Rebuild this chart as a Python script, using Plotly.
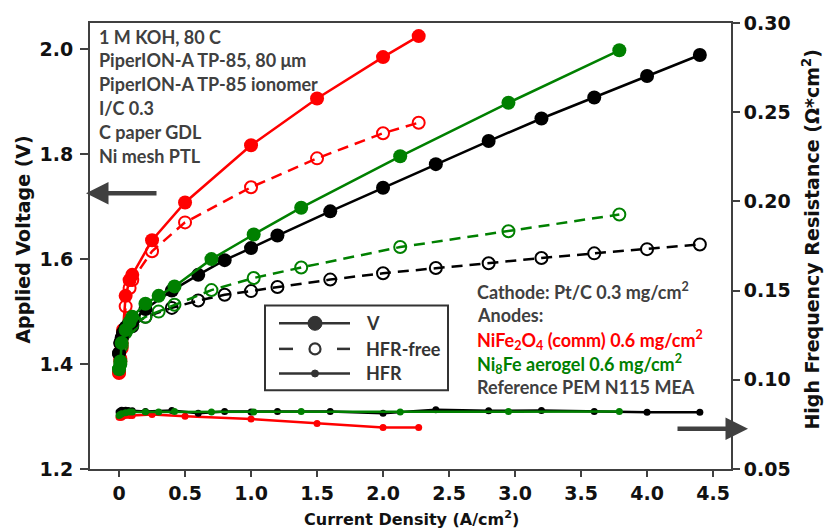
import plotly.graph_objects as go

# ---------------- data ----------------
red_x = [0, 0.01, 0.02, 0.03, 0.05, 0.08, 0.1, 0.25, 0.5, 1.0, 1.5, 2.0, 2.27]
red_v = [1.385, 1.41, 1.44, 1.465, 1.53, 1.56, 1.57, 1.636, 1.708, 1.817, 1.906, 1.985, 2.025]
red_free = [1.383, 1.405, 1.43, 1.455, 1.51, 1.545, 1.56, 1.615, 1.670, 1.737, 1.792, 1.840, 1.860]
red_hfr = [0.079, 0.079, 0.079, 0.0795, 0.080, 0.080, 0.080, 0.0805, 0.0795, 0.078, 0.0755, 0.0732, 0.0732]

black_x = [0, 0.01, 0.02, 0.03, 0.05, 0.07, 0.1, 0.2, 0.4, 0.6, 0.8, 1.0, 1.2, 1.6, 2.0, 2.4, 2.8, 3.2, 3.6, 4.0, 4.4]
black_v = [1.42, 1.44, 1.45, 1.46, 1.47, 1.475, 1.48, 1.505, 1.54, 1.57, 1.598, 1.621, 1.645, 1.691, 1.736, 1.781,
           1.825, 1.868, 1.908, 1.949, 1.989]
black_free = [1.42, 1.44, 1.448, 1.457, 1.466, 1.47, 1.472, 1.49, 1.507, 1.521, 1.532, 1.539, 1.547, 1.561, 1.573,
              1.583, 1.592, 1.602, 1.611, 1.619, 1.628]
black_hfr = [0.082, 0.0825, 0.083, 0.0828, 0.083, 0.0828, 0.0826, 0.0822, 0.0828, 0.0812, 0.0822, 0.082, 0.0822,
             0.0822, 0.0812, 0.0832, 0.0826, 0.0828, 0.0822, 0.0818, 0.0818]

green_x = [0, 0.01, 0.02, 0.05, 0.08, 0.1, 0.2, 0.3, 0.42, 0.7, 1.02, 1.38, 2.13, 2.95, 3.79]
green_v = [1.39, 1.405, 1.44, 1.465, 1.48, 1.49, 1.515, 1.53, 1.548, 1.60, 1.647, 1.698, 1.796, 1.898, 1.998]
green_free = [1.39, 1.40, 1.435, 1.46, 1.47, 1.475, 1.49, 1.50, 1.513, 1.541, 1.564, 1.584, 1.623, 1.653, 1.685]
green_hfr = [0.080, 0.0805, 0.081, 0.0815, 0.082, 0.082, 0.082, 0.082, 0.0822, 0.082, 0.082, 0.0822, 0.082, 0.0822,
             0.0822]

x_ticks = [0, 0.5, 1.0, 1.5, 2.0, 2.5, 3.0, 3.5, 4.0, 4.5]
x_ticklabels = ["0", "0.5", "1.0", "1.5", "2.0", "2.5", "3.0", "3.5", "4.0", "4.5"]
v_ticks = [1.2, 1.4, 1.6, 1.8, 2.0]
hfr_ticks = [0.05, 0.10, 0.15, 0.20, 0.25, 0.30]

RED = "#ff0000"
GREEN = "#008000"
BLACK = "#000000"
GRAY = "#404040"

# plot area in pixels
L, R, T, B = 90, 731, 16, 469
W, H = 824, 532


def px(xp):
    return (xp - L) / (R - L)


def py(yp):
    return (B - yp) / (B - T)


fig = go.Figure()

series = [
    (red_x, red_v, red_free, red_hfr, RED),
    (black_x, black_v, black_free, black_hfr, BLACK),
    (green_x, green_v, green_free, green_hfr, GREEN),
]

for xs, v, free, hfr, col in series:
    fig.add_trace(go.Scatter(x=xs, y=hfr, yaxis="y2", mode="lines+markers",
                             line=dict(color=col, width=2.5),
                             marker=dict(color=col, size=7), showlegend=False))
for xs, v, free, hfr, col in series:
    fig.add_trace(go.Scatter(x=xs, y=free, mode="lines+markers",
                             line=dict(color=col, width=2.5, dash="11px,7px"),
                             marker=dict(color=col, size=12, symbol="circle-open", line=dict(width=2, color=col)),
                             showlegend=False))
for xs, v, free, hfr, col in series:
    fig.add_trace(go.Scatter(x=xs, y=v, mode="lines+markers",
                             line=dict(color=col, width=2.5),
                             marker=dict(color=col, size=14), showlegend=False))

tickfont = dict(family="DejaVu Sans", size=19, color="#111111", weight="bold")

fig.update_layout(
    width=W, height=H,
    margin=dict(l=L, r=W - R, t=T, b=H - B, pad=0),
    plot_bgcolor="white", paper_bgcolor="white",
    xaxis=dict(range=[-0.22, 4.636], tickvals=x_ticks, ticktext=x_ticklabels,
               showgrid=False, zeroline=False, showline=True, mirror=True,
               linecolor=GRAY, linewidth=2, ticks="outside", ticklen=6, tickwidth=2,
               tickcolor=GRAY, tickfont=tickfont),
    yaxis=dict(range=[1.2, 2.05], tickvals=v_ticks, tickformat=".1f",
               showgrid=False, zeroline=False, showline=True,
               linecolor=GRAY, linewidth=2, ticks="outside", ticklen=8, tickwidth=2,
               tickcolor=GRAY, tickfont=tickfont, ticklabelstandoff=3),
    yaxis2=dict(range=[0.05, 0.30], tickvals=hfr_ticks, tickformat=".2f",
                overlaying="y", side="right",
                showgrid=False, zeroline=False, showline=True,
                linecolor=GRAY, linewidth=2, ticks="outside", ticklen=7, tickwidth=2,
                tickcolor=GRAY, tickfont=tickfont),
    showlegend=False,
)

titlefont = dict(family="DejaVu Sans", size=19, color="#111111", weight="bold")
annots = []
annots.append(dict(text="Applied Voltage (V)", x=px(23), y=py(236), xref="paper", yref="paper",
                   textangle=-90, showarrow=False, font=titlefont, xanchor="center", yanchor="middle"))
annots.append(dict(text="High Frequency Resistance (Ω*cm<sup>2</sup>)", x=px(811), y=py(235),
                   xref="paper", yref="paper", textangle=-90, showarrow=False,
                   font=dict(family="DejaVu Sans", size=19, color="#111111", weight="bold"),
                   xanchor="center", yanchor="middle"))
annots.append(dict(text="Current Density (A/cm<sup>2</sup>)", x=px(411), y=py(519),
                   xref="paper", yref="paper", showarrow=False,
                   font=dict(family="DejaVu Sans", size=16, color="#111111", weight="bold"),
                   xanchor="center", yanchor="middle"))

infofont = dict(family="Lato", size=18, color=GRAY, weight="bold")
left_lines = ["1 M KOH, 80 C", "PiperION-A TP-85, 80 μm", "PiperION-A TP-85 ionomer", "I/C 0.3",
              "C paper GDL", "Ni mesh PTL"]
left_y = [30, 54, 78, 102, 127, 151]
for t, yy in zip(left_lines, left_y):
    annots.append(dict(text=t, x=px(97), y=py(yy), xref="paper", yref="paper", showarrow=False,
                       xanchor="left", yanchor="middle", font=infofont))

right_lines = [
    ("Cathode: Pt/C 0.3 mg/cm<sup>2</sup>", GRAY),
    ("Anodes:", GRAY),
    ("NiFe<sub>2</sub>O<sub>4</sub> (comm) 0.6 mg/cm<sup>2</sup>", RED),
    ("Ni<sub>8</sub>Fe aerogel 0.6 mg/cm<sup>2</sup>", GREEN),
    ("Reference PEM N115 MEA", GRAY),
]
right_y = [288, 313, 338, 362, 386]
for (t, c), yy in zip(right_lines, right_y):
    annots.append(dict(text=t, x=px(475), y=py(yy), xref="paper", yref="paper", showarrow=False,
                       xanchor="left", yanchor="middle",
                       font=dict(family="Lato", size=18, color=c, weight="bold")))

# legend text
legfont = dict(family="Lato", size=18, color="#333333", weight="bold")
for t, yy in zip(["V", "HFR-free", "HFR"], [321, 347, 372]):
    annots.append(dict(text=t, x=px(364), y=py(yy), xref="paper", yref="paper", showarrow=False,
                       xanchor="left", yanchor="middle", font=legfont))

# direction arrows
annots.append(dict(text="", x=px(86), y=py(189), xref="paper", yref="paper", showarrow=True,
                   ax=72, ay=0, arrowhead=2, arrowsize=1.0, arrowwidth=4.5, arrowcolor=GRAY))
annots.append(dict(text="", x=px(748), y=py(428), xref="paper", yref="paper", showarrow=True,
                   ax=-72, ay=0, arrowhead=2, arrowsize=1.0, arrowwidth=4.5, arrowcolor=GRAY))

fig.update_layout(annotations=annots)

# manual legend box
LC = "#333333"
shapes = [dict(type="rect", xref="paper", yref="paper", x0=px(265), x1=px(448), y0=py(389), y1=py(303),
               line=dict(color=LC, width=2), fillcolor="white")]
# V sample
shapes.append(dict(type="line", xref="paper", yref="paper", x0=px(279), x1=px(350), y0=py(321), y1=py(321),
                   line=dict(color=LC, width=2.5)))
shapes.append(dict(type="circle", xref="paper", yref="paper", xsizemode="pixel", ysizemode="pixel",
                   xanchor=px(315), yanchor=py(321), x0=-7, x1=7, y0=-7, y1=7,
                   fillcolor=LC, line=dict(color=LC, width=1)))
# HFR-free sample
for a, b in [(279, 293), (337, 350)]:
    shapes.append(dict(type="line", xref="paper", yref="paper", x0=px(a), x1=px(b), y0=py(347), y1=py(347),
                       line=dict(color=LC, width=2.5)))
shapes.append(dict(type="circle", xref="paper", yref="paper", xsizemode="pixel", ysizemode="pixel",
                   xanchor=px(315), yanchor=py(347), x0=-5.5, x1=5.5, y0=-5.5, y1=5.5,
                   fillcolor="white", line=dict(color=LC, width=2.2)))
# HFR sample
shapes.append(dict(type="line", xref="paper", yref="paper", x0=px(279), x1=px(350), y0=py(372), y1=py(372),
                   line=dict(color=LC, width=2.5)))
shapes.append(dict(type="circle", xref="paper", yref="paper", xsizemode="pixel", ysizemode="pixel",
                   xanchor=px(315), yanchor=py(372), x0=-3.5, x1=3.5, y0=-3.5, y1=3.5,
                   fillcolor=LC, line=dict(color=LC, width=1)))
for s in shapes:
    s["layer"] = "above"
fig.update_layout(shapes=shapes)

fig.write_html("out.html")
